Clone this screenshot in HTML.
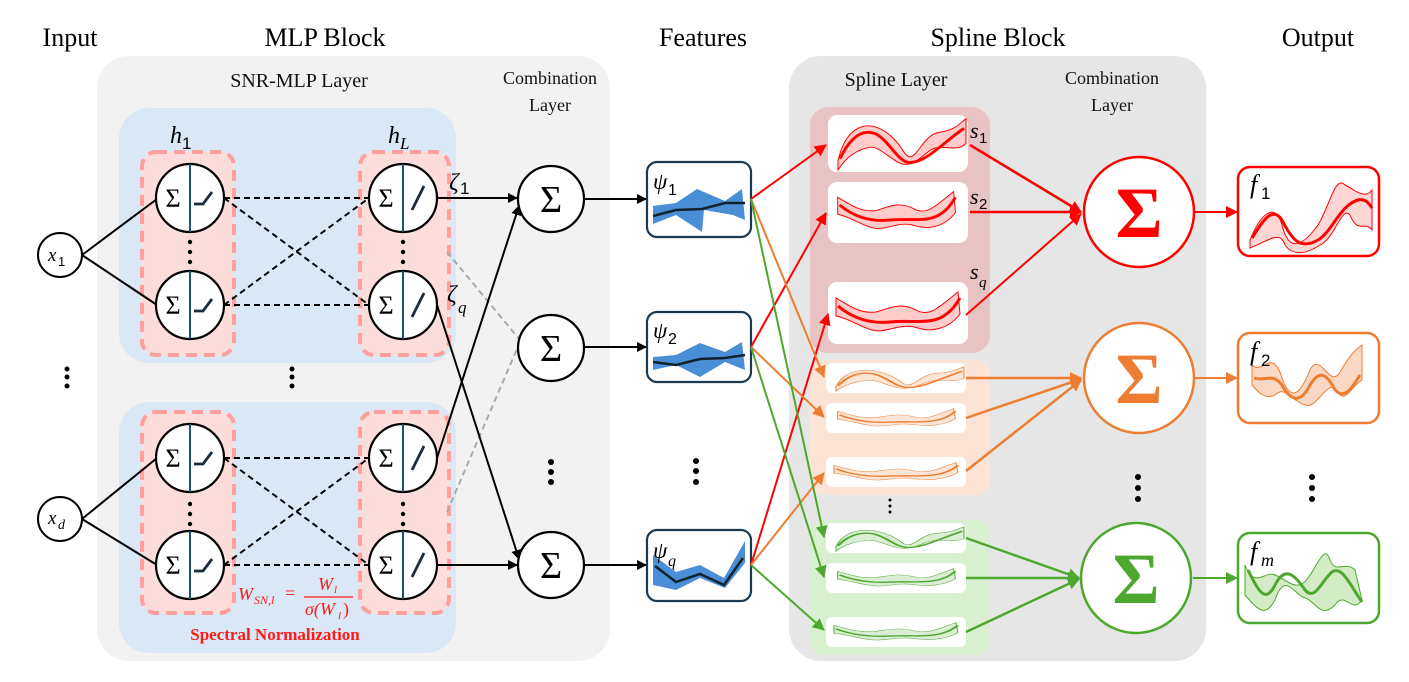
<!DOCTYPE html>
<html><head><meta charset="utf-8"><style>
html,body{margin:0;padding:0;background:#fff;}
svg{display:block;font-family:"Liberation Serif",serif;}
.t{font-size:26px;text-anchor:middle;fill:#000;}
.s{font-size:20px;text-anchor:middle;fill:#111;}
.m{font-style:italic;font-family:"Liberation Serif",serif;}
</style></head><body>
<svg width="1409" height="682" viewBox="0 0 1409 682" xmlns="http://www.w3.org/2000/svg">
<defs>
<marker id="ak" markerWidth="10" markerHeight="10" refX="9" refY="5" orient="auto" markerUnits="userSpaceOnUse"><path d="M0,0 L10,5 L0,10 z" fill="#000"/></marker>
<marker id="ar" markerWidth="12" markerHeight="12" refX="11" refY="6" orient="auto" markerUnits="userSpaceOnUse"><path d="M0,0 L12,6 L0,12 z" fill="#ff0000"/></marker>
<marker id="ao" markerWidth="12" markerHeight="12" refX="11" refY="6" orient="auto" markerUnits="userSpaceOnUse"><path d="M0,0 L12,6 L0,12 z" fill="#ed7d31"/></marker>
<marker id="ag" markerWidth="12" markerHeight="12" refX="11" refY="6" orient="auto" markerUnits="userSpaceOnUse"><path d="M0,0 L12,6 L0,12 z" fill="#4ea72e"/></marker>
<g id="splR">
<path d="M6,48 C14,12 34,4 54,18 C70,30 72,44 78,44 C86,44 92,20 108,18 C124,16 128,8 134,4 L134,30 C124,40 112,30 100,36 C88,44 84,52 74,52 C62,52 48,32 38,34 C26,36 14,44 6,58 Z" fill="currentColor" fill-opacity="0.2" stroke="currentColor" stroke-width="1"/>
<path d="M8,46 C18,24 30,14 44,20 C58,28 66,50 78,50 C94,50 110,30 132,14" fill="none" stroke="currentColor" stroke-width="3"/>
</g>
<g id="splR2">
<path d="M6,14 C20,22 30,30 46,28 C60,24 70,18 86,26 C100,34 110,22 128,8 L130,30 C118,46 100,48 88,44 C70,38 56,50 42,46 C28,42 18,34 6,32 Z" fill="currentColor" fill-opacity="0.2" stroke="currentColor" stroke-width="1"/>
<path d="M8,22 C22,34 40,40 60,38 C80,36 96,40 110,34 C122,28 126,20 130,14" fill="none" stroke="currentColor" stroke-width="3"/>
</g>
</defs>

<rect x="97" y="56" width="513" height="605" rx="32" fill="#f2f2f2"/>
<rect x="789" y="56" width="417" height="605" rx="32" fill="#e6e6e6"/>
<rect x="119" y="108" width="337" height="255" rx="30" fill="#dae8f5"/>
<rect x="119" y="402" width="337" height="251" rx="30" fill="#dae8f5"/>
<g fill="#fddcdc" stroke="#ff9f9f" stroke-width="4" stroke-dasharray="11,7">
<rect x="142" y="152" width="92" height="203" rx="14"/>
<rect x="360" y="152" width="89" height="203" rx="14"/>
<rect x="142" y="412" width="92" height="201" rx="14"/>
<rect x="360" y="412" width="89" height="201" rx="14"/>
</g>

<text class="t" x="70" y="46">Input</text>
<text class="t" x="325" y="46">MLP Block</text>
<text class="t" x="703" y="46">Features</text>
<text class="t" x="998" y="46">Spline Block</text>
<text class="t" x="1318" y="46">Output</text>
<text class="s" x="299" y="87">SNR-MLP Layer</text>
<text class="s" x="550" y="84" style="font-size:18px">Combination</text>
<text class="s" x="550" y="111" style="font-size:18px">Layer</text>
<text class="s" x="896" y="86">Spline Layer</text>
<text class="s" x="1112" y="84" style="font-size:18px">Combination</text>
<text class="s" x="1112" y="111" style="font-size:18px">Layer</text>
<text class="m" x="170" y="143" font-size="24">h</text><text x="182" y="149" font-size="17" font-family="Liberation Sans">1</text>
<text class="m" x="388" y="143" font-size="24">h</text><text class="m" x="400" y="149" font-size="17">L</text>

<g stroke="#000" stroke-width="2" fill="none">
<line x1="82" y1="255" x2="157" y2="199"/><line x1="82" y1="255" x2="157" y2="305"/>
<line x1="82" y1="519" x2="157" y2="458"/><line x1="82" y1="519" x2="157" y2="565"/>
</g>
<g stroke="#000" stroke-width="2" stroke-dasharray="6,4" fill="none">
<line x1="224" y1="198" x2="369" y2="198"/><line x1="224" y1="305" x2="369" y2="305"/>
<line x1="224" y1="198" x2="369" y2="305"/><line x1="224" y1="305" x2="369" y2="198"/>
<line x1="224" y1="458" x2="369" y2="458"/><line x1="224" y1="565" x2="369" y2="565"/>
<line x1="224" y1="458" x2="369" y2="565"/><line x1="224" y1="565" x2="369" y2="458"/>
</g>
<g stroke="#aaa" stroke-width="2" stroke-dasharray="6,4" fill="none">
<line x1="447" y1="252" x2="520" y2="340"/><line x1="447" y1="512" x2="520" y2="342"/>
</g>
<g stroke="#000" stroke-width="2" fill="none" marker-end="url(#ak)">
<line x1="437" y1="198" x2="517" y2="198"/>
<line x1="437" y1="305" x2="519" y2="559"/>
<line x1="437" y1="458" x2="519" y2="206"/>
<line x1="437" y1="565" x2="517" y2="565"/>
<line x1="584" y1="199" x2="646" y2="199"/>
<line x1="584" y1="347" x2="646" y2="347"/>
<line x1="584" y1="565" x2="646" y2="565"/>
</g>

<g fill="#fff" stroke="#000" stroke-width="2">
<ellipse cx="60" cy="255" rx="22" ry="22"/><ellipse cx="60" cy="519" rx="22" ry="22"/>
</g>
<text class="m" x="48" y="261" font-size="19">x</text><text x="58" y="266" font-size="13" font-family="Liberation Sans">1</text>
<text class="m" x="48" y="524" font-size="19">x</text><text class="m" x="58" y="529" font-size="14">d</text>

<g font-size="26" font-family="Liberation Serif">
<g transform="translate(190,198)"><circle r="34" fill="#fff" stroke="#000" stroke-width="2.2"/><line x1="0" y1="-34" x2="0" y2="34" stroke="#1f4e79" stroke-width="2"/><text x="-17" y="9" text-anchor="middle">Σ</text><path d="M4,6 L13,6 L22,-6" stroke="#1a2e40" stroke-width="2.8" fill="none"/></g>
<g transform="translate(190,305)"><circle r="34" fill="#fff" stroke="#000" stroke-width="2.2"/><line x1="0" y1="-34" x2="0" y2="34" stroke="#1f4e79" stroke-width="2"/><text x="-17" y="9" text-anchor="middle">Σ</text><path d="M4,6 L13,6 L22,-6" stroke="#1a2e40" stroke-width="2.8" fill="none"/></g>
<g transform="translate(190,458)"><circle r="34" fill="#fff" stroke="#000" stroke-width="2.2"/><line x1="0" y1="-34" x2="0" y2="34" stroke="#1f4e79" stroke-width="2"/><text x="-17" y="9" text-anchor="middle">Σ</text><path d="M4,6 L13,6 L22,-6" stroke="#1a2e40" stroke-width="2.8" fill="none"/></g>
<g transform="translate(190,565)"><circle r="34" fill="#fff" stroke="#000" stroke-width="2.2"/><line x1="0" y1="-34" x2="0" y2="34" stroke="#1f4e79" stroke-width="2"/><text x="-17" y="9" text-anchor="middle">Σ</text><path d="M4,6 L13,6 L22,-6" stroke="#1a2e40" stroke-width="2.8" fill="none"/></g>
<g transform="translate(403,198)"><circle r="34" fill="#fff" stroke="#000" stroke-width="2.2"/><line x1="0" y1="-34" x2="0" y2="34" stroke="#1f4e79" stroke-width="2"/><text x="-17" y="9" text-anchor="middle">Σ</text><path d="M9,12 L21,-12" stroke="#1a2e40" stroke-width="2.8"/></g>
<g transform="translate(403,305)"><circle r="34" fill="#fff" stroke="#000" stroke-width="2.2"/><line x1="0" y1="-34" x2="0" y2="34" stroke="#1f4e79" stroke-width="2"/><text x="-17" y="9" text-anchor="middle">Σ</text><path d="M9,12 L21,-12" stroke="#1a2e40" stroke-width="2.8"/></g>
<g transform="translate(403,458)"><circle r="34" fill="#fff" stroke="#000" stroke-width="2.2"/><line x1="0" y1="-34" x2="0" y2="34" stroke="#1f4e79" stroke-width="2"/><text x="-17" y="9" text-anchor="middle">Σ</text><path d="M9,12 L21,-12" stroke="#1a2e40" stroke-width="2.8"/></g>
<g transform="translate(403,565)"><circle r="34" fill="#fff" stroke="#000" stroke-width="2.2"/><line x1="0" y1="-34" x2="0" y2="34" stroke="#1f4e79" stroke-width="2"/><text x="-17" y="9" text-anchor="middle">Σ</text><path d="M9,12 L21,-12" stroke="#1a2e40" stroke-width="2.8"/></g>
</g>
<text class="m" x="449" y="190" font-size="24">ζ</text><text x="460" y="194" font-size="17" font-family="Liberation Sans">1</text>
<text class="m" x="447" y="302" font-size="24">ζ</text><text class="m" x="458" y="313" font-size="17">q</text>

<g fill="#fff" stroke="#000" stroke-width="2.2">
<circle cx="551" cy="199" r="33"/><circle cx="551" cy="348" r="33"/><circle cx="551" cy="565" r="33"/>
</g>
<g font-size="38" text-anchor="middle" font-family="Liberation Serif">
<text x="551" y="212">Σ</text><text x="551" y="361">Σ</text><text x="551" y="578">Σ</text>
</g>

<g fill="#000">
<circle cx="67" cy="369" r="2.5"/><circle cx="67" cy="377" r="2.5"/><circle cx="67" cy="386" r="2.5"/>
<circle cx="292" cy="369" r="2.5"/><circle cx="292" cy="377" r="2.5"/><circle cx="292" cy="386" r="2.5"/>
<circle cx="190" cy="242" r="2.2"/><circle cx="190" cy="252" r="2.2"/><circle cx="190" cy="262" r="2.2"/>
<circle cx="403" cy="242" r="2.2"/><circle cx="403" cy="252" r="2.2"/><circle cx="403" cy="262" r="2.2"/>
<circle cx="190" cy="504" r="2.2"/><circle cx="190" cy="514" r="2.2"/><circle cx="190" cy="524" r="2.2"/>
<circle cx="403" cy="504" r="2.2"/><circle cx="403" cy="514" r="2.2"/><circle cx="403" cy="524" r="2.2"/>
<circle cx="551" cy="462" r="3"/><circle cx="551" cy="472" r="3"/><circle cx="551" cy="482" r="3"/>
<circle cx="696" cy="461" r="3"/><circle cx="696" cy="471" r="3"/><circle cx="696" cy="482" r="3"/>
<circle cx="1138" cy="477" r="3"/><circle cx="1138" cy="488" r="3"/><circle cx="1138" cy="499" r="3"/>
<circle cx="1312" cy="477" r="3"/><circle cx="1312" cy="488" r="3"/><circle cx="1312" cy="499" r="3"/>
<circle cx="890" cy="500" r="1.5"/><circle cx="890" cy="506" r="1.5"/><circle cx="890" cy="512" r="1.5"/>
<circle cx="890" cy="442" r="1.3"/><circle cx="890" cy="447" r="1.3"/><circle cx="890" cy="452" r="1.3"/>
<circle cx="888" cy="602" r="1.3"/><circle cx="888" cy="607" r="1.3"/><circle cx="888" cy="612" r="1.3"/>
</g>
<g fill="#ff0000"><circle cx="895" cy="252" r="2.5"/><circle cx="895" cy="261" r="2.5"/><circle cx="895" cy="271" r="2.5"/></g>

<text class="m" x="238" y="600" font-size="18" fill="#ff1a1a">W</text><text class="m" x="254" y="604" font-size="12" fill="#ff1a1a">SN,l</text>
<text x="285" y="599" font-size="18" fill="#ff1a1a">=</text>
<line x1="304" y1="597" x2="353" y2="597" stroke="#ff1a1a" stroke-width="1.2"/>
<text class="m" x="318" y="590" font-size="18" fill="#ff1a1a">W</text><text class="m" x="334" y="593" font-size="11" fill="#ff1a1a">l</text>
<text class="m" x="305" y="615" font-size="18" fill="#ff1a1a">σ(W</text><text class="m" x="338" y="619" font-size="11" fill="#ff1a1a">l</text><text x="343" y="615" font-size="18" fill="#ff1a1a">)</text>
<text x="275" y="640" font-size="17" font-weight="bold" text-anchor="middle" fill="#ff1a1a">Spectral Normalization</text>

<g stroke="#1b3a52" stroke-width="2.2" fill="#fff">
<rect x="647" y="162" width="104" height="75" rx="10"/>
<rect x="647" y="312" width="104" height="70" rx="10"/>
<rect x="647" y="530" width="104" height="71" rx="10"/>
</g>
<polygon points="653,206 676,203 697,189 725,201 742,189 745,220 733,215 704,210 702,232 676,215 653,224" fill="#4a8fd6"/>
<polyline points="653,216 676,210 702,209 725,203 745,203" fill="none" stroke="#10222e" stroke-width="2.5"/>
<polygon points="653,357 676,355 700,343 725,352 742,342 745,370 725,362 700,377 676,365 653,370" fill="#4a8fd6"/>
<polyline points="653,362 676,365 700,359 725,358 745,355" fill="none" stroke="#10222e" stroke-width="2.5"/>
<polygon points="653,555 676,572 700,565 724,578 745,541 745,563 725,588 700,578 676,590 653,585" fill="#4a8fd6"/>
<polyline points="655,566 676,582 700,574 724,585 743,558" fill="none" stroke="#10222e" stroke-width="2.5"/>
<text class="m" x="653" y="189" font-size="23">ψ</text><text x="668" y="195" font-size="16" font-family="Liberation Sans">1</text>
<text class="m" x="653" y="338" font-size="23">ψ</text><text x="668" y="344" font-size="16" font-family="Liberation Sans">2</text>
<text class="m" x="653" y="558" font-size="23">ψ</text><text class="m" x="668" y="566" font-size="16">q</text>

<rect x="810" y="107" width="180" height="246" rx="18" fill="#e8c3c4"/>
<rect x="810" y="360" width="180" height="135" rx="14" fill="#fbe3d6"/>
<rect x="810" y="520" width="180" height="135" rx="14" fill="#d9f0d0"/>
<g fill="#fff">
<rect x="828" y="115" width="140" height="57" rx="9"/>
<rect x="828" y="182" width="140" height="61" rx="9"/>
<rect x="828" y="282" width="140" height="62" rx="9"/>
<rect x="826" y="363" width="140" height="30" rx="6"/>
<rect x="826" y="403" width="140" height="30" rx="6"/>
<rect x="826" y="457" width="140" height="30" rx="6"/>
<rect x="826" y="523" width="140" height="30" rx="6"/>
<rect x="826" y="563" width="140" height="30" rx="6"/>
<rect x="826" y="617" width="140" height="30" rx="6"/>
</g>
<g style="color:#ff0000">
<use href="#splR" transform="translate(832,115) scale(1,0.95)"/>
<use href="#splR2" transform="translate(832,184) scale(0.95,0.95)"/>
<use href="#splR2" transform="translate(830,284) scale(1,1)"/>
</g>
<g style="color:#ed7d31">
<use href="#splR" transform="translate(830,365) scale(1,0.45)"/>
<use href="#splR2" transform="translate(832,405) scale(0.95,0.45)"/>
<use href="#splR2" transform="translate(828,459) scale(1,0.45)"/>
</g>
<g style="color:#4ea72e">
<use href="#splR" transform="translate(830,525) scale(1,0.45)"/>
<use href="#splR2" transform="translate(832,565) scale(0.95,0.45)"/>
<use href="#splR2" transform="translate(828,619) scale(1,0.45)"/>
</g>
<text class="m" x="970" y="138" font-size="22">s</text><text x="979" y="143" font-size="15" font-family="Liberation Sans">1</text>
<text class="m" x="970" y="204" font-size="22">s</text><text x="979" y="209" font-size="15" font-family="Liberation Sans">2</text>
<text class="m" x="970" y="279" font-size="22">s</text><text class="m" x="979" y="287" font-size="15">q</text>

<g stroke-width="2" fill="none">
<line x1="751" y1="199" x2="826" y2="145" stroke="#ff0000" marker-end="url(#ar)"/>
<line x1="751" y1="347" x2="826" y2="213" stroke="#ff0000" marker-end="url(#ar)"/>
<line x1="751" y1="565" x2="828" y2="314" stroke="#ff0000" marker-end="url(#ar)"/>
<line x1="751" y1="199" x2="824" y2="377" stroke="#ed7d31" marker-end="url(#ao)"/>
<line x1="751" y1="347" x2="824" y2="417" stroke="#ed7d31" marker-end="url(#ao)"/>
<line x1="751" y1="565" x2="824" y2="473" stroke="#ed7d31" marker-end="url(#ao)"/>
<line x1="751" y1="199" x2="824" y2="537" stroke="#4ea72e" marker-end="url(#ag)"/>
<line x1="751" y1="347" x2="824" y2="577" stroke="#4ea72e" marker-end="url(#ag)"/>
<line x1="751" y1="565" x2="824" y2="630" stroke="#4ea72e" marker-end="url(#ag)"/>
<line x1="970" y1="145" x2="1081" y2="212" stroke="#ff0000" stroke-width="2.5" marker-end="url(#ar)"/>
<line x1="970" y1="212" x2="1081" y2="212" stroke="#ff0000" stroke-width="2.5" marker-end="url(#ar)"/>
<line x1="966" y1="315" x2="1081" y2="214" stroke="#ff0000" marker-end="url(#ar)"/>
<line x1="966" y1="378" x2="1081" y2="378" stroke="#ed7d31" stroke-width="2.5" marker-end="url(#ao)"/>
<line x1="966" y1="418" x2="1081" y2="379" stroke="#ed7d31" stroke-width="2.5" marker-end="url(#ao)"/>
<line x1="966" y1="471" x2="1081" y2="380" stroke="#ed7d31" stroke-width="2.5" marker-end="url(#ao)"/>
<line x1="966" y1="538" x2="1079" y2="578" stroke="#4ea72e" stroke-width="2.5" marker-end="url(#ag)"/>
<line x1="966" y1="578" x2="1079" y2="578" stroke="#4ea72e" stroke-width="2.5" marker-end="url(#ag)"/>
<line x1="966" y1="632" x2="1079" y2="579" stroke="#4ea72e" stroke-width="2.5" marker-end="url(#ag)"/>
<line x1="1195" y1="212" x2="1237" y2="212" stroke="#ff0000" marker-end="url(#ar)"/>
<line x1="1195" y1="378" x2="1237" y2="378" stroke="#ed7d31" marker-end="url(#ao)"/>
<line x1="1193" y1="578" x2="1237" y2="578" stroke="#4ea72e" marker-end="url(#ag)"/>
</g>

<circle cx="1139" cy="212" r="55" fill="#fff" stroke="#ff0000" stroke-width="2.5"/>
<circle cx="1139" cy="378" r="55" fill="#fff" stroke="#ed7d31" stroke-width="2.5"/>
<circle cx="1136" cy="578" r="55" fill="#fff" stroke="#4ea72e" stroke-width="2.5"/>
<g font-size="72" font-weight="bold" text-anchor="middle" font-family="Liberation Serif">
<text x="1139" y="237" fill="#ff0000">Σ</text>
<text x="1139" y="403" fill="#ed7d31">Σ</text>
<text x="1136" y="603" fill="#4ea72e">Σ</text>
</g>

<rect x="1238" y="167" width="141" height="89" rx="12" fill="#fff" stroke="#ff0000" stroke-width="2.5"/>
<rect x="1238" y="333" width="141" height="90" rx="12" fill="#fff" stroke="#ed7d31" stroke-width="2.5"/>
<rect x="1238" y="533" width="141" height="90" rx="12" fill="#fff" stroke="#4ea72e" stroke-width="2.5"/>
<path d="M1250,240 C1260,215 1275,200 1282,225 C1288,250 1300,250 1318,225 C1330,205 1335,175 1345,185 C1355,190 1365,200 1372,190 L1372,230 C1365,220 1358,235 1350,215 C1342,205 1335,238 1320,245 C1300,258 1290,252 1285,245 C1280,230 1270,240 1250,248 Z" fill="#ffd6d6" stroke="#ff0000" stroke-width="1"/>
<path d="M1252,238 C1262,222 1272,205 1282,220 C1292,240 1300,250 1318,240 C1332,232 1340,205 1358,200 C1366,198 1370,205 1372,208" fill="none" stroke="#ff0000" stroke-width="3"/>
<path d="M1252,365 C1262,375 1270,350 1280,372 C1290,405 1300,395 1310,370 C1320,350 1330,390 1340,372 C1350,355 1355,350 1362,345 L1362,380 C1352,385 1345,405 1338,392 C1328,375 1318,410 1305,405 C1290,400 1285,385 1275,395 C1265,400 1258,392 1252,385 Z" fill="#fbd8c4" stroke="#ed7d31" stroke-width="1"/>
<path d="M1254,378 C1265,382 1272,372 1282,385 C1290,400 1300,405 1310,385 C1318,372 1325,370 1335,390 C1345,400 1352,388 1360,375" fill="none" stroke="#ed7d31" stroke-width="3"/>
<path d="M1245,565 C1255,590 1265,570 1275,575 C1288,580 1298,595 1310,575 C1320,560 1325,545 1330,560 C1336,575 1345,560 1355,570 L1362,600 C1352,615 1345,590 1335,605 C1320,620 1315,600 1305,598 C1295,596 1285,570 1275,600 C1265,618 1258,610 1245,595 Z" fill="#d3ecc6" stroke="#4ea72e" stroke-width="1"/>
<path d="M1248,570 C1258,590 1265,605 1275,585 C1285,565 1295,575 1305,590 C1315,602 1322,580 1332,572 C1342,565 1350,585 1362,602" fill="none" stroke="#4ea72e" stroke-width="3"/>
<text class="m" x="1250" y="193" font-size="26">f</text><text x="1261" y="199" font-size="17" font-family="Liberation Sans">1</text>
<text class="m" x="1250" y="360" font-size="26">f</text><text x="1261" y="366" font-size="17" font-family="Liberation Sans">2</text>
<text class="m" x="1250" y="560" font-size="26">f</text><text class="m" x="1261" y="566" font-size="18">m</text>
</svg>
</body></html>
